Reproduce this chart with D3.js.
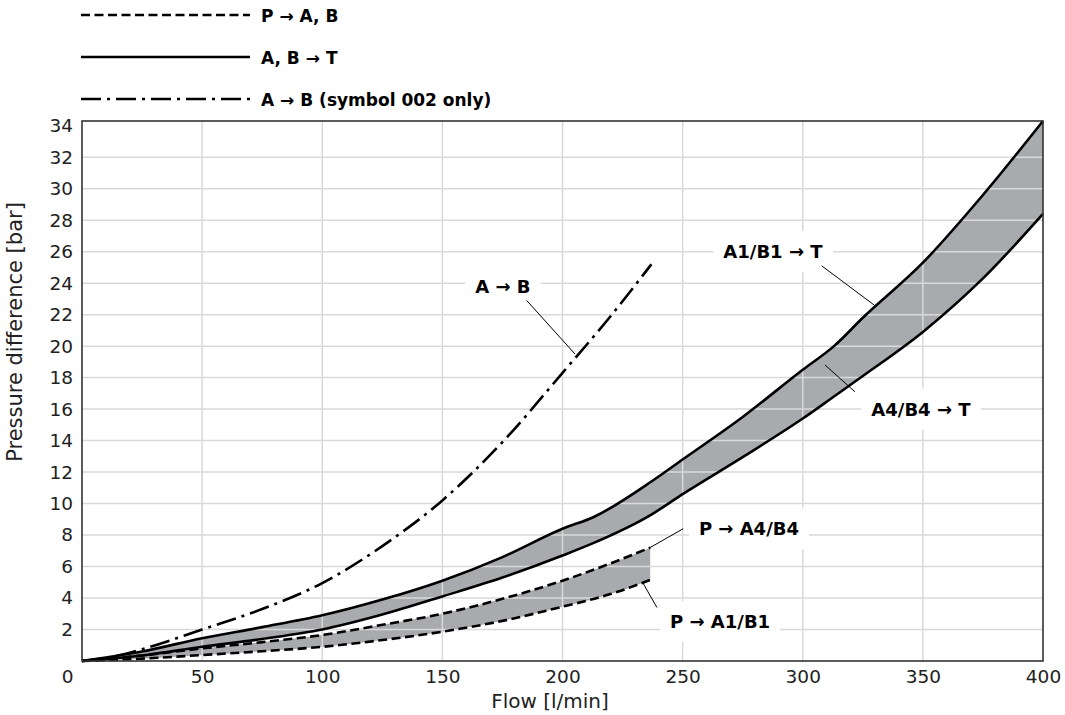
<!DOCTYPE html>
<html>
<head>
<meta charset="utf-8">
<script src="https://cdn.jsdelivr.net/npm/d3@7"></script>
<style>
  body { margin: 0; background: #fff; }
  svg { display: block; font-family: "DejaVu Sans", sans-serif; }
</style>
</head>
<body>
<div id="chart"></div>
<script>
// values
const solidFlow = [0, 25, 50, 75, 100, 125, 150, 175, 200, 213, 237, 250, 275, 300, 313, 325, 350, 375, 400];
const a1b1ToT   = [0, 0.6, 1.45, 2.15, 2.9, 3.9, 5.1, 6.6, 8.4, 9.15, 11.4, 12.8, 15.5, 18.5, 20.0, 21.8, 25.3, 29.6, 34.3];
const a4b4ToT   = [0, 0.35, 0.9, 1.4, 2.0, 2.95, 4.1, 5.3, 6.7, 7.5, 9.3, 10.6, 12.95, 15.4, 16.8, 18.1, 20.9, 24.3, 28.4];

const dashedFlow = [0, 25, 50, 75, 100, 125, 150, 175, 200, 220, 236.5];
const pToA4B4    = [0, 0.35, 0.8, 1.2, 1.65, 2.3, 3.0, 3.95, 5.1, 6.2, 7.2];
const pToA1B1    = [0, 0.15, 0.38, 0.62, 0.9, 1.33, 1.86, 2.55, 3.45, 4.25, 5.15];

const dashDotFlow = [0, 15, 25, 50, 75, 100, 125, 150, 175, 200, 220, 237];
const aToB        = [0, 0.35, 0.75, 2.0, 3.3, 4.95, 7.3, 10.2, 13.9, 18.3, 21.9, 25.2];

const xTickLabels = [0, 50, 100, 150, 200, 250, 300, 350, 400];
const yTickLabels = [2, 4, 6, 8, 10, 12, 14, 16, 18, 20, 22, 24, 26, 28, 30, 32, 34];

const legendLabels = ['P \u2192 A, B', 'A, B \u2192 T', 'A \u2192 B (symbol 002 only)'];
const legendKinds  = ['dashed', 'solid', 'dashdot'];

// annotation text position and leader line, in data units
const notes = [
    { text: 'A \u2192 B',         x: 175.2, y: 23.8, from: [185.1, 22.9], to: [205.2, 19.5] },
    { text: 'A1/B1 \u2192 T',     x: 287.6, y: 26.0, from: [307.9, 25.1], to: [329.8, 22.6] },
    { text: 'A4/B4 \u2192 T',     x: 349.2, y: 16.0, from: [309.3, 18.8], to: [321.7, 17.1] },
    { text: 'P \u2192 A4/B4',     x: 277.6, y: 8.4,  from: [250.2, 8.4],  to: [236.4, 7.2] },
    { text: 'P \u2192 A1/B1',     x: 265.6, y: 2.5,  from: [233.5, 4.95], to: [239.3, 3.4] }
];

const dashes = { solid: null, dashed: '9,4.5', dashdot: '20,6,3,6' };

const w = 1065;
const h = 715;

const svg = d3.select('#chart')
    .append('svg')
    .attr('width', w)
    .attr('height', h);

const x = d3.scaleLinear().domain([0, 400]).range([82, 1043]);
const y = d3.scaleLinear().domain([0, 34.3]).range([661, 121]);

const band = (xs, lo, hi) => d3.area()
    .x((d, i) => x(xs[i]))
    .y0((d, i) => y(lo[i]))
    .y1((d, i) => y(hi[i]))
    .curve(d3.curveMonotoneX)(xs);

const line = (xs, ys) => d3.line()
    .x((d, i) => x(xs[i]))
    .y((d, i) => y(ys[i]))
    .curve(d3.curveMonotoneX)(xs);

// grey bands
svg.append('path').attr('d', band(solidFlow, a4b4ToT, a1b1ToT)).attr('fill', '#a9aaad');
svg.append('path').attr('d', band(dashedFlow, pToA1B1, pToA4B4)).attr('fill', '#a9aaad');

// grid
const grid = svg.append('g').attr('stroke', '#d9d9d9').attr('stroke-width', 1.5);
grid.selectAll('.gx')
    .data(xTickLabels.filter(d => d > 0 && d < 400))
    .enter().append('line')
    .attr('x1', d => x(d)).attr('x2', d => x(d))
    .attr('y1', y.range()[0]).attr('y2', y.range()[1]);
grid.selectAll('.gy')
    .data(yTickLabels.filter(d => d < 34))
    .enter().append('line')
    .attr('y1', d => y(d)).attr('y2', d => y(d))
    .attr('x1', x.range()[0]).attr('x2', x.range()[1]);

// curves
const curves = [
    [solidFlow, a1b1ToT, 'solid'],
    [solidFlow, a4b4ToT, 'solid'],
    [dashedFlow, pToA4B4, 'dashed'],
    [dashedFlow, pToA1B1, 'dashed'],
    [dashDotFlow, aToB, 'dashdot']
];
curves.forEach(([xs, ys, kind]) => {
    svg.append('path')
        .attr('d', line(xs, ys))
        .attr('fill', 'none')
        .attr('stroke', '#000')
        .attr('stroke-width', 2.6)
        .attr('stroke-dasharray', dashes[kind]);
});

// frame
svg.append('rect')
    .attr('x', x.range()[0]).attr('y', y.range()[1])
    .attr('width', x.range()[1] - x.range()[0])
    .attr('height', y.range()[0] - y.range()[1])
    .attr('fill', 'none')
    .attr('stroke', '#333')
    .attr('stroke-width', 1.6);

// axes
const xAxis = svg.append('g')
    .attr('transform', `translate(0,${y.range()[0]})`)
    .call(d3.axisBottom(x).tickValues(xTickLabels).tickSize(0).tickPadding(9));
const yAxis = svg.append('g')
    .attr('transform', `translate(${x.range()[0]},0)`)
    .call(d3.axisLeft(y).tickValues(yTickLabels).tickSize(0).tickPadding(9));
[xAxis, yAxis].forEach(a => {
    a.select('.domain').remove();
    a.selectAll('text')
        .attr('font-family', '"DejaVu Sans", sans-serif')
        .attr('font-size', 18.5)
        .attr('fill', '#222');
});
xAxis.selectAll('.tick')
    .filter(d => d === 0)
    .select('text')
    .attr('text-anchor', 'end')
    .attr('x', -9);

svg.append('text')
    .attr('x', 550).attr('y', 708)
    .attr('text-anchor', 'middle')
    .attr('font-size', 20)
    .attr('fill', '#222')
    .text('Flow [l/min]');
svg.append('text')
    .attr('transform', 'translate(22,332) rotate(-90)')
    .attr('text-anchor', 'middle')
    .attr('font-size', 21)
    .attr('fill', '#222')
    .text('Pressure difference [bar]');

// annotations
const noteG = svg.append('g');
notes.forEach(n => {
    const t = noteG.append('text')
        .attr('x', x(n.x)).attr('y', y(n.y))
        .attr('text-anchor', 'middle')
        .attr('dominant-baseline', 'central')
        .attr('font-size', 18)
        .attr('font-weight', 'bold')
        .text(n.text);
    const bb = t.node().getBBox();
    noteG.insert('rect', 'text')
        .attr('x', bb.x - 10).attr('y', bb.y - 10)
        .attr('width', bb.width + 20).attr('height', bb.height + 20)
        .attr('fill', '#fff');
    noteG.append('line')
        .attr('x1', x(n.from[0])).attr('y1', y(n.from[1]))
        .attr('x2', x(n.to[0])).attr('y2', y(n.to[1]))
        .attr('stroke', '#000')
        .attr('stroke-width', 1);
});

// legend
const legend = svg.append('g');
legendLabels.forEach((label, i) => {
    const ly = 15 + i * 42;
    legend.append('line')
        .attr('x1', 81).attr('x2', 250)
        .attr('y1', ly).attr('y2', ly)
        .attr('stroke', '#000')
        .attr('stroke-width', 2.6)
        .attr('stroke-dasharray', dashes[legendKinds[i]]);
    legend.append('text')
        .attr('x', 261).attr('y', ly + 1)
        .attr('dominant-baseline', 'central')
        .attr('font-size', 17)
        .attr('font-weight', 'bold')
        .text(label);
});
</script>
</body>
</html>
